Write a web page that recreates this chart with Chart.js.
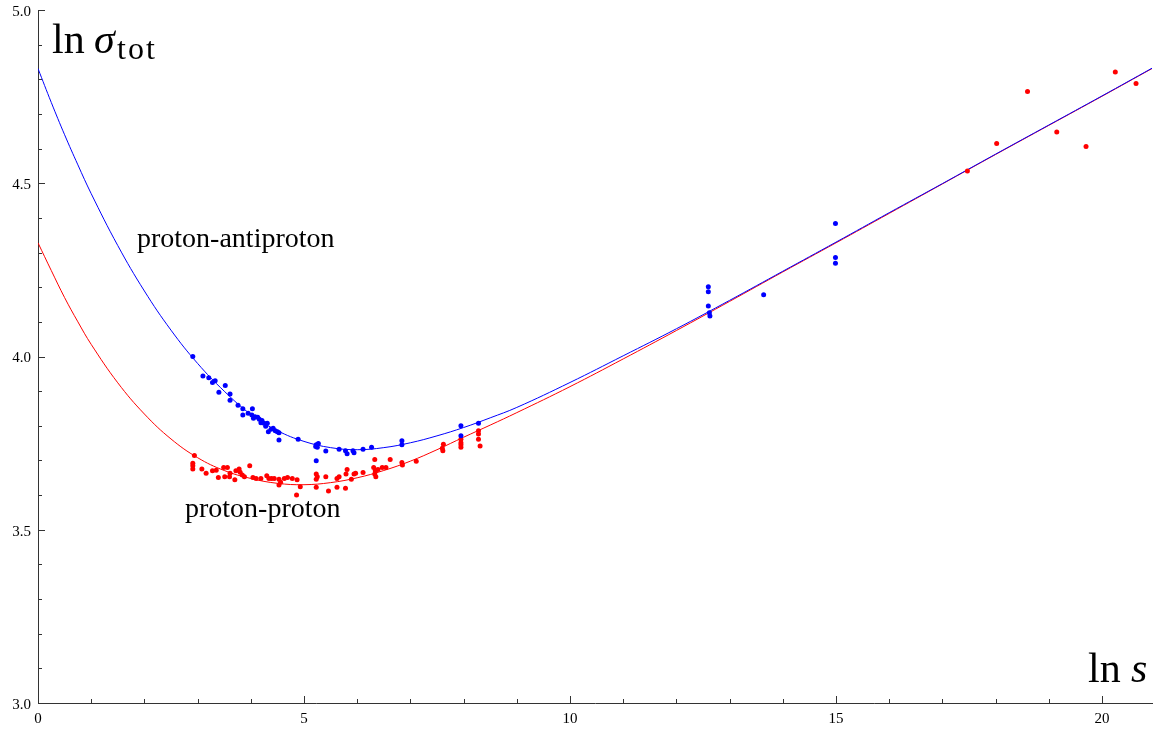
<!DOCTYPE html>
<html>
<head>
<meta charset="utf-8">
<script src="https://cdn.jsdelivr.net/npm/chart.js@4"></script>
<style>
  html, body { margin: 0; padding: 0; background: #fff; }
  #chart { display: block; }
</style>
</head>
<body>
<canvas id="chart" width="1156" height="729"></canvas>
<script>
// measured points, proton-antiproton (blue)
const blueX = [2.91, 3.10, 3.21, 3.28, 3.33, 3.52, 3.40, 3.61, 3.61, 3.76, 3.85, 4.03, 3.95, 3.85,
  4.02, 4.05, 4.08, 4.13, 4.16, 4.21, 4.19, 4.25, 4.31, 4.28, 4.33, 4.38, 4.42, 4.46, 4.50, 4.53, 4.53,
  4.89, 5.23, 5.27, 5.25, 5.22, 5.23, 5.41, 5.66, 5.78, 5.81, 5.92, 5.94, 6.11, 6.27, 6.84, 6.84,
  7.95, 7.95, 8.28, 12.60, 12.60, 12.60, 12.62, 12.63, 13.64, 14.99, 14.99, 14.99];
const blueY = [4.000, 3.944, 3.939, 3.925, 3.930, 3.916, 3.897, 3.892, 3.874, 3.859, 3.849, 3.849, 3.836, 3.831,
  3.831, 3.822, 3.826, 3.825, 3.819, 3.815, 3.809, 3.807, 3.807, 3.799, 3.783, 3.790, 3.793, 3.786, 3.783, 3.780, 3.759,
  3.761, 3.745, 3.749, 3.738, 3.740, 3.699, 3.727, 3.732, 3.728, 3.719, 3.728, 3.722, 3.732, 3.738, 3.757, 3.745,
  3.800, 3.771, 3.807, 4.201, 4.187, 4.146, 4.126, 4.117, 4.178, 4.384, 4.286, 4.269];

// measured points, proton-proton (red)
const redX = [2.94, 2.91, 2.91, 2.91, 3.08, 3.16, 3.28, 3.35, 3.39, 3.49, 3.56, 3.51, 3.60, 3.61, 3.70,
  3.72, 3.78, 3.80, 3.84, 3.88, 3.98, 4.04, 4.10, 4.19, 4.30, 4.34, 4.39, 4.44, 4.53, 4.56, 4.53,
  4.63, 4.69, 4.78, 4.87, 4.93, 4.86, 5.23, 5.25, 5.23, 5.23, 5.41, 5.46, 5.62, 5.66, 5.62, 5.78,
  5.79, 5.81, 5.89, 5.94, 5.97, 6.11, 6.33, 6.31, 6.34, 6.33, 6.35, 6.39, 6.47, 6.54, 6.62, 6.84,
  6.85, 7.11, 7.62, 7.60, 7.61, 7.95, 7.95, 7.95, 7.95, 8.28, 8.28, 8.28, 8.31,
  17.47, 18.02, 18.60, 19.15, 19.70, 20.25, 20.64];
const redY = [3.714, 3.692, 3.685, 3.675, 3.675, 3.663, 3.670, 3.672, 3.651, 3.680, 3.680, 3.653, 3.653, 3.663, 3.644,
  3.670, 3.675, 3.666, 3.658, 3.653, 3.685, 3.651, 3.648, 3.648, 3.656, 3.648, 3.648, 3.648, 3.646, 3.637, 3.629,
  3.648, 3.651, 3.648, 3.644, 3.624, 3.600, 3.661, 3.653, 3.646, 3.623, 3.653, 3.612, 3.648, 3.653, 3.623, 3.620,
  3.661, 3.674, 3.646, 3.661, 3.663, 3.665, 3.703, 3.680, 3.670, 3.661, 3.653, 3.674, 3.680, 3.680, 3.703, 3.694,
  3.687, 3.698, 3.747, 3.735, 3.728, 3.761, 3.751, 3.745, 3.738, 3.786, 3.776, 3.761, 3.742,
  4.535, 4.615, 4.765, 4.648, 4.606, 4.821, 4.788];

// fitted curves
const fitX = [0, 0.25, 0.5, 0.75, 1, 1.5, 2, 2.5, 3, 3.5, 4, 4.5, 5, 5.5, 6, 6.5, 7, 7.5, 8, 8.5, 9,
  10, 11, 12, 13, 14, 15, 16, 17, 18, 19, 20, 20.94];
const blueFit = [4.831, 4.733, 4.640, 4.553, 4.470, 4.320, 4.189, 4.076, 3.980, 3.900, 3.833, 3.786, 3.755, 3.737, 3.731,
  3.737, 3.751, 3.771, 3.795, 3.823, 3.853, 3.925, 4.002, 4.080, 4.162, 4.246, 4.330, 4.415, 4.499, 4.584, 4.668, 4.752, 4.832];
const redFit = [4.328, 4.248, 4.170, 4.100, 4.035, 3.924, 3.834, 3.762, 3.708, 3.671, 3.648, 3.634, 3.630, 3.636, 3.650,
  3.671, 3.698, 3.731, 3.767, 3.802, 3.838, 3.913, 3.993, 4.075, 4.159, 4.244, 4.328, 4.413, 4.498, 4.583, 4.667, 4.751, 4.831];

const xTicks = [0, 5, 10, 15, 20];
const yTicks = [3.0, 3.5, 4.0, 4.5, 5.0];

const pts = (xs, ys) => xs.map((x, i) => ({ x: x, y: ys[i] }));
const serif = '"Liberation Serif", "Times New Roman", serif';

// small inward ticks like the original plot
const innerTicks = {
  id: 'innerTicks',
  afterDraw(chart) {
    const { ctx, chartArea, scales } = chart;
    ctx.save();
    ctx.strokeStyle = '#333';
    ctx.lineWidth = 1;
    for (let v = 0; v <= 20; v++) {
      const px = Math.round(scales.x.getPixelForValue(v)) + 0.5;
      const len = v % 5 === 0 ? 7 : 4;
      ctx.beginPath();
      ctx.moveTo(px, chartArea.bottom);
      ctx.lineTo(px, chartArea.bottom - len);
      ctx.stroke();
    }
    for (let i = 0; i <= 20; i++) {
      const py = Math.round(scales.y.getPixelForValue(3 + i * 0.1)) + 0.5;
      const len = i % 5 === 0 ? 7 : 4;
      ctx.beginPath();
      ctx.moveTo(chartArea.left, py);
      ctx.lineTo(chartArea.left + len, py);
      ctx.stroke();
    }
    ctx.restore();
  }
};

const textLabels = {
  id: 'textLabels',
  afterDraw(chart) {
    const ctx = chart.ctx;
    ctx.save();
    ctx.fillStyle = '#000';
    ctx.textBaseline = 'alphabetic';
    // axis labels
    ctx.font = '42px ' + serif;
    ctx.fillText('ln', 52, 53);
    ctx.font = 'italic 42px ' + serif;
    ctx.fillText('σ', 94, 53);
    ctx.font = '32px ' + serif;
    ctx.letterSpacing = '2px';
    ctx.fillText('tot', 117, 59);
    ctx.letterSpacing = '0px';
    ctx.font = '42px ' + serif;
    ctx.fillText('ln', 1088, 682);
    ctx.font = 'italic 42px ' + serif;
    ctx.fillText('s', 1131, 682);
    // curve names
    ctx.font = '28px ' + serif;
    ctx.fillText('proton-antiproton', 137, 247);
    ctx.fillText('proton-proton', 185, 517);
    ctx.restore();
  }
};

const ctx = document.getElementById('chart').getContext('2d');
const chart = new Chart(ctx, {
  type: 'scatter',
  data: {
    datasets: [
      { label: 'pbar-p data', data: pts(blueX, blueY), backgroundColor: '#0000ff', borderWidth: 0, pointRadius: 2.5, order: 0 },
      { label: 'p-p data', data: pts(redX, redY), backgroundColor: '#ff0000', borderWidth: 0, pointRadius: 2.5, order: 1 },
      { label: 'pbar-p fit', data: pts(fitX, blueFit), showLine: true, borderColor: '#0000ff', borderWidth: 1,
        pointRadius: 0, tension: 0.4, order: 2 },
      { label: 'p-p fit', data: pts(fitX, redFit), showLine: true, borderColor: '#ff0000', borderWidth: 1,
        pointRadius: 0, tension: 0.4, order: 3 }
    ]
  },
  options: {
    responsive: false,
    animation: false,
    layout: { padding: { top: 10, right: 0, bottom: 0, left: 0 } },
    plugins: {
      legend: { display: false },
      tooltip: { enabled: false }
    },
    scales: {
      x: {
        type: 'linear',
        min: 0,
        max: 20.94,
        grid: { display: false, drawTicks: false },
        border: { display: true, color: '#333', width: 1 },
        ticks: { color: '#000', font: { family: serif, size: 15 }, padding: 7, maxRotation: 0 },
        afterBuildTicks: s => { s.ticks = xTicks.map(v => ({ value: v })); },
        afterFit: s => { s.height = 26; s.paddingLeft = 0; s.paddingRight = 0; }
      },
      y: {
        type: 'linear',
        min: 3,
        max: 5,
        grid: { display: false, drawTicks: false },
        border: { display: true, color: '#333', width: 1 },
        ticks: { color: '#000', font: { family: serif, size: 15 }, padding: 7, labelOffset: 2,
          callback: v => Number(v).toFixed(1) },
        afterBuildTicks: s => { s.ticks = yTicks.map(v => ({ value: v })); },
        afterFit: s => { s.width = 38; s.paddingTop = 0; s.paddingBottom = 0; }
      }
    }
  },
  plugins: [innerTicks, textLabels]
});
</script>
</body>
</html>
